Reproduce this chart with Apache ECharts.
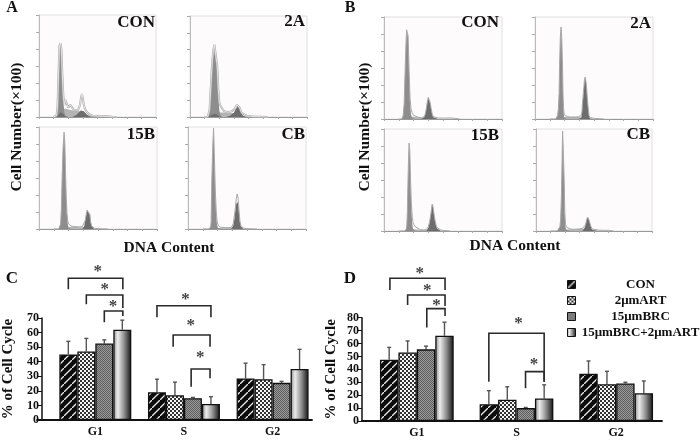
<!DOCTYPE html>
<html>
<head>
<meta charset="utf-8">
<style>html,body{margin:0;padding:0;background:#fff}#c{width:700px;height:440px}</style>
<script src="https://cdn.jsdelivr.net/npm/echarts@6/dist/echarts.min.js"></script>
</head>
<body>
<div id="c"></div>
<script>
// ---------- histogram data (x = DNA content channel, y = cell count) ----------
const aConX = [30,34,36,38,40,42,44,46,48,50,52,54,56,58,60,62,64,68,72,76,80,84,86,88,90,92,94,98,104,110,120,130,140,150,160];
const aConRaw = [0,0,8,60,250,420,435,400,240,120,70,100,95,72,55,65,72,55,42,36,40,70,110,135,110,72,50,30,15,8,5,4,4,1,0];
const aConG1 = [0,0,5,50,240,400,420,385,220,90,25,10,4];
const aConS = [0,0,2,8,15,25,30,35,42,48,50,50,48,46,44,42,42,40,38,36,35,34,32,30,28,25,22,15,8,5,3,2,1];
const aConDark = [0,0,0,6,12,20,28,30,28,18,8,0,0,0,0,0,0,0,0,10,22,32,38,42,40,34,28,14,3];

const a2aX = [30,36,38,40,42,44,46,48,50,52,54,56,58,60,62,64,65,66,70,74,78,82,86,90,92,94,96,98,100,102,104,106,110,116,124,136,150,160];
const a2aRaw = [0,0,5,40,140,250,340,400,430,435,420,300,170,90,70,60,55,45,35,30,28,30,35,40,48,60,72,76,70,55,38,25,15,8,4,2,1,0];
const a2aG1 = [0,0,3,30,120,230,320,375,392,394,385,270,130,45,15,5];
const a2aS = [0,0,1,5,10,15,18,20,22,24,25,26,27,27,27,27,27,27,26,26,25,25,25,24,23,20,18,16,14,12,10,7,3,1];
const a2aDark = [0,0,0,4,8,12,15,18,20,20,18,14,8,3,0,0,0,0,0,0,4,8,14,25,36,48,58,62,58,45,30,18,6];

const a15bX = [30,40,42,44,45.5,47,49,51,52.5,54,55.5,57,58.5,60,62,65,70,76,82,88,90,92,94,96.5,98,100,102,103.5,105,107,109,112,120,130,140];
const a15bRaw = [0,0,6,30,120,300,480,570,510,330,180,90,50,30,22,18,15,14,13,14,16,22,50,95,112,118,110,85,42,20,10,5,2,1,0];
const a15bG1 = [0,0,6,30,120,300,480,560,500,320,170,75,30,8,2];
const a15bS = [0,0,0,1,2,3,4,5,6,7,8,9,10,12,13,13,13,12,11,11,10,9,8,7,6,5,4,3,2,1];
const a15bDark = [0,0,0,0,0,0,0,0,0,0,0,0,0,0,0,0,0,0,0,0,2,16,48,90,108,114,106,82,40,16,6];

const aCbX = [30,42,44,46,47,47.5,48.5,50.5,52,53.5,55.5,57.5,59,61,63,66,70,76,82,88,90,92,94,96.5,98,100,102,103.5,105.5,107.5,109.5,113,120,130,140];
const aCbRaw = [0,0,3,12,40,130,300,500,594,450,230,100,50,25,15,10,8,8,8,9,12,30,70,130,175,206,180,120,50,20,10,5,2,1,0];
const aCbG1 = [0,0,3,12,40,125,290,490,585,440,210,70,25,6,1];
const aCbS = [0,0,0,0,1,1,2,3,4,5,5,6,6,7,7,7,7,7,7,7,7,6,5,4,3,3,2,2,1];
const aCbDark = [0,0,0,0,0,0,0,0,0,0,0,0,0,0,0,0,0,0,0,0,4,20,55,115,145,160,145,100,40,14,5];

const bConX = [30,36,37,39,41,43,44.5,46,47.5,49,51,53,55,57,58,60,64,70,76,80,82,84,86,88,90,92,94,96,98,100,104,110,120,130,140,146,154];
const bConRaw = [0,0,3,20,90,290,430,525,535,490,290,120,60,40,30,22,14,10,8,10,14,30,60,100,128,120,95,60,30,14,8,6,5,6,5,3,0];
const bConG1 = [0,0,3,20,90,285,425,520,530,480,270,90,25,6,1];
const bConS = [0,0,0,1,2,3,4,5,6,7,9,11,13,14,14,13,12,10,8,7,6,5,4,3,3,2,1];
const bConDark = [0,0,0,0,0,0,0,0,0,0,0,0,0,0,0,0,0,0,0,2,12,28,58,98,125,118,92,56,26,10,3];

const b2aX = [30,42,44,46,47.5,49,50,51.5,53,54.5,56,57,58,59,61,64,70,76,82,88,92,94,95.5,96.5,98,99.5,100.5,102,103.5,105,106.5,108,110,112,115,120,130,140];
const b2aRaw = [0,0,3,20,60,150,320,480,541,470,300,150,70,35,20,14,12,12,12,13,14,20,45,90,140,190,230,247,225,180,120,70,20,8,5,4,2,0];
const b2aG1 = [0,0,3,20,60,145,315,475,535,460,285,130,45,12,2];
const b2aS = [0,0,0,1,1,2,3,4,5,6,7,8,9,10,11,12,12,12,12,12,12,10,9,8,7,6,5,4,3,2,1];
const b2aDark = [0,0,0,0,0,0,0,0,0,0,0,0,0,0,0,0,0,0,0,0,0,8,35,80,130,180,225,242,220,175,115,65,15,3];

const b15bX = [30,42,44,45.5,46.5,47.5,48.5,50,51,52.5,54,55.5,57.5,59,61,64,68,74,80,86,88,90,92.5,94,95.5,97,98,99.5,101,102.5,104,106,108,112,116,124,134];
const b15bRaw = [0,0,2,12,40,110,260,440,517,470,300,170,80,50,38,24,14,8,6,8,14,25,50,75,105,140,159,145,115,85,60,35,20,10,5,3,0];
const b15bG1 = [0,0,2,12,40,105,255,435,510,460,280,140,40,12,3];
const b15bS = [0,0,0,1,1,2,3,4,5,6,7,8,9,10,10,10,9,8,6,6,5,4,3,3,2,2,1];
const b15bDark = [0,0,0,0,0,0,0,0,0,0,0,0,0,0,0,0,0,0,0,0,4,18,45,72,102,138,155,142,112,82,56,30,14,4];

const bCbX = [30,44,46,48,49.5,51,52.5,54,55,56.5,58.5,59.5,61,63,66,72,80,88,96,100,102,104,105,106,107,108,109,110,112,114,116,120,130,140,150,160];
const bCbRaw = [0,0,2,8,25,70,200,420,588,480,280,120,40,22,14,11,10,12,15,22,35,55,70,78,82,78,72,62,42,24,12,8,5,4,4,0];
const bCbG1 = [0,0,2,8,25,65,195,415,580,470,265,100,22,6];
const bCbS = [0,0,0,0,1,1,2,3,4,5,6,7,8,9,10,10,10,12,14,14,12,10,9,8,7,6,5,4,3,2,1];
const bCbDark = [0,0,0,0,0,0,0,0,0,0,0,0,0,0,0,0,0,0,0,16,30,52,68,76,80,76,70,60,40,22,8,3];

// ---------- bar chart data ----------
const phases = ['G1','S','G2'];
const groupNames = ['CON','2μmART','15μmBRC','15μmBRC+2μmART'];
const cTicks = [0,10,20,30,40,50,60,70];
const dTicks = [0,10,20,30,40,50,60,70,80];

const cCon = [45,19,28.5],   cConTop = [54,28,39];
const cArt = [47,17,28],     cArtTop = [56,26,38];
const cBrc = [52.5,15,25.5], cBrcTop = [55,15.5,26.5];
const cBoth = [62,11,35],    cBothTop = [68.5,16,48.5];

const dCon = [47.5,13,36.5], dConTop = [57,23.5,46.5];
const dArt = [53,16.5,28.5], dArtTop = [62,26.5,38.5];
const dBrc = [55.5,10,29],   dBrcTop = [58,10.5,30];
const dBoth = [66,17.5,21.5],dBothTop = [76.5,28,31];

// [phase, fromBar, toBar, topValue, leftEndValue, rightEndValue, starValue, starBar]
const cBrackets = [
  [0,0,3.03,97.3,89.7,89.7,103.6,1.63],
  [0,1,3.03,85.8,79.4,76.8,91.5,2.03],
  [0,2,3.03,74.8,67,71.4,80,2.48],
  [1,0,3,78.4,70.5,70.5,85,1.59],
  [1,0.9,2.95,58.3,50.3,50.3,66.8,1.88],
  [1,1.9,2.95,35,22.9,28.6,44.6,2.41]
];
const dBrackets = [
  [0,0.04,3.03,110.5,101.4,101.4,116.4,1.66],
  [0,1,3.03,97.6,89.8,89,103.5,2.06],
  [0,2.04,3.03,87,72.5,81.3,91.9,2.56],
  [1,0,3,67.9,30.4,30.4,77.4,1.61],
  [1,1.99,3,38.2,25.3,30.4,45.9,2.45]
];

// ---------- styling ----------
const SERIF = '"Liberation Serif","Times New Roman",serif';
function tile(w, h, draw){
  const c = document.createElement('canvas');
  c.width = w; c.height = h;
  draw(c.getContext('2d'));
  return {image:c, repeat:'repeat'};
}
const hatch = tile(8,8,g=>{
  g.fillStyle='#0b0b0b'; g.fillRect(0,0,8,8);
  g.strokeStyle='#e8e8e8'; g.lineWidth=1.3;
  g.beginPath(); g.moveTo(-2,10); g.lineTo(10,-2); g.stroke();
});
const dots = tile(4,4,g=>{
  g.fillStyle='#f6f6f6'; g.fillRect(0,0,4,4);
  g.fillStyle='#333'; g.fillRect(0,0,2,2); g.fillRect(2,2,2,2);
});
const fine = tile(2,2,g=>{
  g.fillStyle='#9a9a9a'; g.fillRect(0,0,2,2);
  g.fillStyle='#5e5e5e'; g.fillRect(0,0,1,1); g.fillRect(1,1,1,1);
});
const sheen = {type:'linear',x:0,y:0,x2:1,y2:0,colorStops:[
  {offset:0,color:'#8c8c8c'},{offset:.25,color:'#ececec'},{offset:.6,color:'#8f8f8f'},{offset:1,color:'#111'}]};
const fills = [hatch,dots,fine,sheen];

// ---------- layout ----------
const panels = [
  {x:aConX,raw:aConRaw,g1:aConG1,s:aConS,dark:aConDark,l:39,r:156,t:15,b:117},
  {x:a2aX,raw:a2aRaw,g1:a2aG1,s:a2aS,dark:a2aDark,l:190,r:307,t:16,b:117},
  {x:a15bX,raw:a15bRaw,g1:a15bG1,s:a15bS,dark:a15bDark,l:39,r:157,t:127,b:229},
  {x:aCbX,raw:aCbRaw,g1:aCbG1,s:aCbS,dark:aCbDark,l:188,r:306,t:127,b:229},
  {x:bConX,raw:bConRaw,g1:bConG1,s:bConS,dark:bConDark,l:384,r:502,t:17,b:119},
  {x:b2aX,raw:b2aRaw,g1:b2aG1,s:b2aS,dark:b2aDark,l:535,r:653,t:17,b:119},
  {x:b15bX,raw:b15bRaw,g1:b15bG1,s:b15bS,dark:b15bDark,l:384,r:502,t:129,b:231},
  {x:bCbX,raw:bCbRaw,g1:bCbG1,s:bCbS,dark:bCbDark,l:536,r:652,t:129,b:231}
];
const grids=[], xAxes=[], yAxes=[], series=[];
const zip=(xs,ys)=>xs.map((x,i)=>[x,ys[i]||0]);

panels.forEach((p,k)=>{
  grids.push({left:p.l,top:p.t,width:p.r-p.l,height:p.b-p.t,show:true,backgroundColor:'#fdfbfb',borderColor:'#e0e0e0',borderWidth:1});
  xAxes.push({gridIndex:k,type:'value',min:0,max:240,interval:30,splitLine:{show:false},axisLabel:{show:false},
    axisLine:{lineStyle:{color:'#999',width:1}},axisTick:{length:2,lineStyle:{color:'#aaa'}}});
  yAxes.push({gridIndex:k,type:'value',min:0,max:600,interval:100,splitLine:{show:false},axisLabel:{show:false},
    axisLine:{show:true,lineStyle:{color:'#bbb',width:1}},axisTick:{show:true,length:3,lineStyle:{color:'#aaa'}}});
  const area=(ys,color)=>({type:'line',xAxisIndex:k,yAxisIndex:k,data:zip(p.x,ys),showSymbol:false,silent:true,
    lineStyle:{width:0},areaStyle:{color:color,opacity:1},animation:false});
  const edge=(color,w)=>({type:'line',xAxisIndex:k,yAxisIndex:k,data:zip(p.x,p.raw),showSymbol:false,silent:true,
    lineStyle:{color:color,width:w},animation:false});
  series.push(edge('#a8a8a8',k<2?2:1));
  if(k<2) series.push(edge('#f2f2f2',0.8));
  series.push(area(p.s,'#b4b4b4'), area(p.g1,'#8d8d8d'), area(p.dark,'#6d6d6d'));
});

// bar chart grids
function barChart(idx,cfg){
  grids.push({left:cfg.l,top:cfg.t,width:cfg.w,height:cfg.h});
  xAxes.push({gridIndex:idx,type:'category',data:phases,axisLine:{show:false},axisTick:{show:false},
    axisLabel:{margin:6,color:'#111',fontFamily:SERIF,fontWeight:'bold',fontSize:12}});
  yAxes.push({gridIndex:idx,type:'value',min:0,max:cfg.max,interval:10,offset:cfg.off,splitLine:{show:false},
    name:'% of Cell Cycle',nameLocation:'middle',nameGap:cfg.nameGap,nameRotate:90,
    nameTextStyle:{color:'#111',fontFamily:SERIF,fontWeight:'bold',fontSize:15},
    axisLine:{show:true,lineStyle:{color:'#111',width:1.5}},axisTick:{show:true,length:4,lineStyle:{color:'#111',width:1}},
    axisLabel:{margin:3,color:'#111',fontFamily:SERIF,fontWeight:'bold',fontSize:12}});
  const gapFrac = cfg.gap/100;
  const barPos=(api,cat,bar)=>{
    const band=api.size([1,0])[0];
    const w=band*(1-gapFrac)/4;
    return api.coord([cat,0])[0]+(bar-1.5)*w;
  };
  cfg.vals.forEach((v,i)=>{
    series.push({type:'bar',name:groupNames[i],xAxisIndex:idx,yAxisIndex:idx,data:v,barGap:0,barCategoryGap:cfg.gap+'%',
      itemStyle:{color:fills[i],borderColor:'#111',borderWidth:1.3},silent:true,animation:false,z:3});
  });
  const errRows=[];
  cfg.vals.forEach((v,b)=>v.forEach((m,c)=>errRows.push([c,b,m,cfg.tops[b][c]])));
  series.push({type:'custom',xAxisIndex:idx,yAxisIndex:idx,data:errRows,silent:true,animation:false,clip:false,z:2,
    encode:{x:0,y:3},
    renderItem:(ps,api)=>{
      const x=barPos(api,api.value(0),api.value(1));
      const y0=api.coord([api.value(0),api.value(2)])[1];
      const y1=api.coord([api.value(0),api.value(3)])[1];
      const st={stroke:'#555',lineWidth:1.4};
      return {type:'group',children:[
        {type:'line',shape:{x1:x,y1:y0,x2:x,y2:y1},style:st},
        {type:'line',shape:{x1:x-2,y1:y1,x2:x+2,y2:y1},style:st}
      ]};
    }});
  series.push({type:'custom',xAxisIndex:idx,yAxisIndex:idx,data:cfg.brackets,silent:true,animation:false,clip:false,z:4,
    encode:{x:0,y:3},
    renderItem:(ps,api)=>{
      const c=api.value(0);
      const x1=barPos(api,c,api.value(1)), x2=barPos(api,c,api.value(2));
      const yv=i=>api.coord([c,api.value(i)])[1];
      return {type:'group',children:[
        {type:'polyline',shape:{points:[[x1,yv(4)],[x1,yv(3)],[x2,yv(3)],[x2,yv(5)]]},style:{fill:'none',stroke:'#2a2a2a',lineWidth:1.6}},
        {type:'text',style:{text:'*',x:barPos(api,c,api.value(7)),y:yv(6)+3,textAlign:'center',textVerticalAlign:'middle',
          font:'bold 17px '+SERIF,fill:'#444'}}
      ]};
    }});
}
barChart(8,{l:46,t:318,w:270.9,h:102,max:70,off:9,gap:18.8,nameGap:26,
  vals:[cCon,cArt,cBrc,cBoth],tops:[cConTop,cArtTop,cBrcTop,cBothTop],brackets:cBrackets});
barChart(9,{l:367,t:317.7,w:299,h:103.3,max:80,off:5,gap:26,nameGap:23,
  vals:[dCon,dArt,dBrc,dBoth],tops:[dConTop,dArtTop,dBrcTop,dBothTop],brackets:dBrackets});

// baseline-only grids: the drawn baselines reach further than the category bands
[[37,275,420],[362,300,421]].forEach((b,i)=>{
  const k=10+i;
  grids.push({left:b[0],width:b[1],top:b[2]-10,height:10});
  xAxes.push({gridIndex:k,type:'value',min:0,max:1,axisLabel:{show:false},axisTick:{show:false},splitLine:{show:false},
    axisLine:{show:true,lineStyle:{color:'#111',width:1.8}}});
  yAxes.push({gridIndex:k,type:'value',show:false,splitLine:{show:false}});
});

// ---------- text ----------
const T=(text,x,y,size,opts={})=>({type:'text',x:x,y:y,rotation:opts.rot||0,z:20,silent:true,
  style:{text:text,font:'bold '+size+'px '+SERIF,fill:opts.fill||'#111',textAlign:opts.align||'center',textVerticalAlign:'middle'}});
const up=Math.PI/2;
const texts=[
  T('A',12,8,16),T('B',350,8,16),T('C',12,279,17),T('D',350,279,17),
  T('CON',155,23,17,{align:'right'}),T('2A',305,22,17,{align:'right'}),T('15B',155,135,17,{align:'right'}),T('CB',305,135,17,{align:'right'}),
  T('CON',499,23,17,{align:'right'}),T('2A',651,24,17,{align:'right'}),T('15B',499,136,17,{align:'right'}),T('CB',650,135,17,{align:'right'}),
  T('Cell Number(×100)',17,127,15.6,{rot:up}),T('Cell Number(×100)',365,127,15.6,{rot:up}),
  T('DNA Content',169,248,15.5),T('DNA Content',515,246,15.5)
];

const chart=echarts.init(document.getElementById('c'),null,{renderer:'canvas'});
chart.setOption({
  animation:false,
  backgroundColor:'#fff',
  grid:grids,xAxis:xAxes,yAxis:yAxes,series:series,
  legend:{data:groupNames,orient:'vertical',left:567,top:278,padding:0,itemWidth:8,itemHeight:8,itemGap:3,itemStyle:{borderWidth:1},
    selectedMode:false,icon:'rect',formatter:'{a|{name}}',
    textStyle:{rich:{a:{width:120,height:14,align:'center',fontFamily:SERIF,fontWeight:'bold',fontSize:13,color:'#111'}}}},
  graphic:{elements:texts}
});
</script>
</body>
</html>
